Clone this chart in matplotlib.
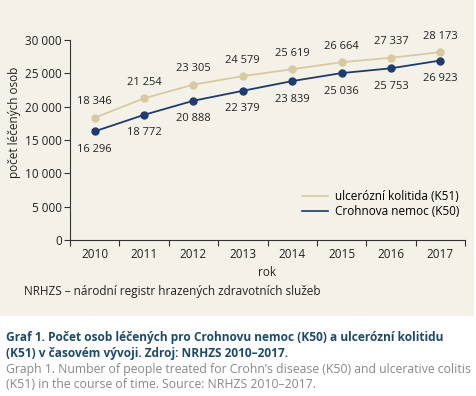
import matplotlib
matplotlib.use("Agg")
import matplotlib.pyplot as plt
from matplotlib.patches import Rectangle
from matplotlib.lines import Line2D

years = ["2010", "2011", "2012", "2013", "2014", "2015", "2016", "2017"]
k51 = [18346, 21254, 23305, 24579, 25619, 26664, 27337, 28173]
k50 = [16296, 18772, 20888, 22379, 23839, 25036, 25753, 26923]
k51_name = "ulcerózní kolitida (K51)"
k50_name = "Crohnova nemoc (K50)"
yticks = [0, 5000, 10000, 15000, 20000, 25000, 30000]

def fmt(v):
    return "{:,}".format(v).replace(",", " ")

plt.rcParams['font.family'] = ['Open Sans', 'DejaVu Sans']
beige = "#d8c9a0"
navy = "#1d3b6b"
txt = "#222222"

fig = plt.figure(figsize=(4.77, 3.96), dpi=100)
fig.patch.set_facecolor("white")
fig.patches.append(Rectangle((0, 1 - 316/396), 474/477, 316/396, transform=fig.transFigure,
                             facecolor="#f4f1e8", edgecolor="none", zorder=-10))

# axes: x 70..465 px, y 40..240 px
ax = fig.add_axes([70/477, 1 - 240/396, 395/477, 200/396])
ax.set_facecolor("none")
x = list(range(len(years)))
ax.plot(x, k51, color=beige, lw=1.3, marker="o", ms=5, label=k51_name)
ax.plot(x, k50, color=navy, lw=1.3, marker="o", ms=5, label=k50_name)

for i in x:
    ax.annotate(fmt(k51[i]), (i, k51[i]), xytext=(0, 7.5), textcoords="offset points",
                ha="center", va="bottom", fontsize=8, color=txt)
    ax.annotate(fmt(k50[i]), (i, k50[i]), xytext=(0, -9), textcoords="offset points",
                ha="center", va="top", fontsize=8, color=txt)

ax.set_xlim(-0.5, len(years) - 0.5)
ax.set_ylim(0, 30000)
ax.set_yticks(yticks)
ax.set_yticklabels([fmt(v) for v in yticks], fontsize=8.5, color=txt)
ax.set_xticks([i - 0.5 for i in range(len(years) + 1)])
ax.set_xticklabels([])
ax.set_xticks(x, minor=True)
ax.set_xticklabels(years, minor=True, fontsize=8.5, color=txt)
ax.tick_params(axis="x", which="minor", length=0, pad=6)
ax.tick_params(axis="both", which="major", length=4, width=0.8, color="#333333")
ax.tick_params(axis="y", pad=2)
for s in ["top", "right"]:
    ax.spines[s].set_visible(False)
for s in ["left", "bottom"]:
    ax.spines[s].set_color("#333333")
    ax.spines[s].set_linewidth(0.8)

handles = [Line2D([], [], color=beige, lw=1.2), Line2D([], [], color=navy, lw=1.2)]
ax.legend(handles, [k51_name, k50_name], loc="lower right", bbox_to_anchor=(1.0, 0.08),
          frameon=False, fontsize=8.5, handlelength=2.2, handletextpad=0.6,
          labelspacing=0.2, borderpad=0)

fig.text(267/477, 1 - 273/396, "rok", ha="center", va="center", fontsize=8.5, color=txt)
fig.text(15/477, 1 - 122/396, "počet léčených osob", rotation=90, ha="center", va="center",
         fontsize=8.5, color=txt)
fig.text(24/477, 1 - 292/396, "NRHZS – národní registr hrazených zdravotních služeb",
         ha="left", va="center", fontsize=8.5, color=txt)

fig.text(6/477, 1 - 338/396, "Graf 1. Počet osob léčených pro Crohnovu nemoc (K50) a ulcerózní kolitidu",
         ha="left", va="center", fontsize=8.6, fontweight="bold", color="#1c4b6a")
fig.text(6/477, 1 - 354/396, "(K51) v časovém vývoji. Zdroj: NRHZS 2010–2017.",
         ha="left", va="center", fontsize=8.6, fontweight="bold", color="#1c4b6a")
fig.text(6/477, 1 - 370/396, "Graph 1. Number of people treated for Crohn’s disease (K50) and ulcerative colitis",
         ha="left", va="center", fontsize=8.8, color="#888888")
fig.text(6/477, 1 - 385/396, "(K51) in the course of time. Source: NRHZS 2010–2017.",
         ha="left", va="center", fontsize=8.8, color="#888888")

fig.savefig("out.png", dpi=100)
